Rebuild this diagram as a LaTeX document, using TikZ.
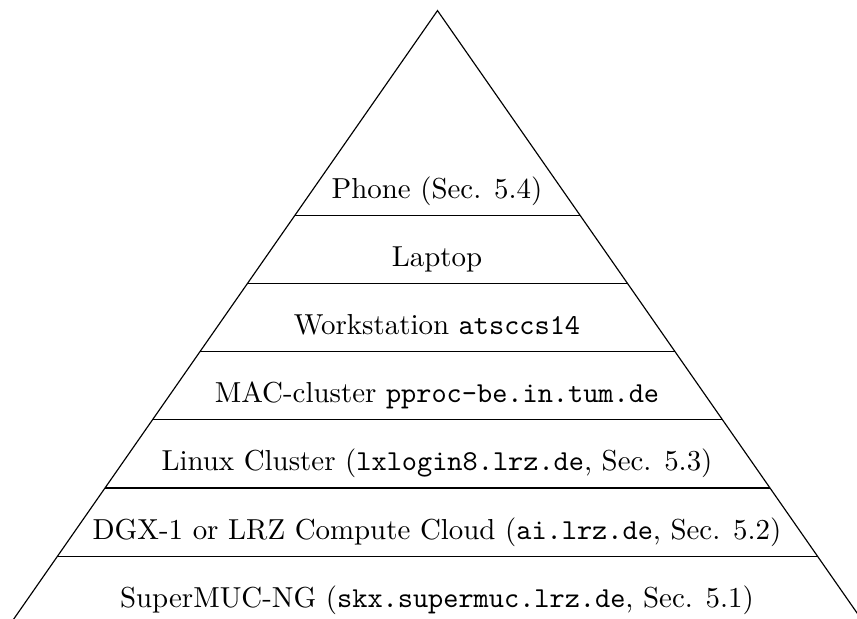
\documentclass[tikz,border=0pt]{standalone}

\begin{document}
\begin{tikzpicture}[x=0.346pt, y=-0.346pt]
\tikzset{layer/.style={anchor=base, inner sep=0pt}}
\useasboundingbox (0,0) rectangle (857,619);
\clip (0,0) rectangle (857,619);

% pyramid outline
\coordinate (apex) at (437.5,10.6);
\coordinate (bl) at (10,624.4);
\coordinate (br) at (865,624.4);
\draw (bl) -- (apex) -- (br);

% layer separators
\foreach \k in {3,...,8}{
  \coordinate (l\k) at ({437.5-47.5*\k},{10.6+68.2*\k});
  \coordinate (r\k) at ({437.5+47.5*\k},{10.6+68.2*\k});
  \draw (l\k) -- (r\k);
}

% labels
\node[layer] (phone) at (437,198.0) {Phone (Sec. 5.4)};
\node[layer] (laptop) at (437,266.2) {Laptop};
\node[layer] (workstation) at (437,334.4) {Workstation \texttt{atsccs14}};
\node[layer] (maccluster) at (437,402.6) {MAC-cluster \texttt{pproc-be.in.tum.de}};
\node[layer] (linux) at (437,470.8) {Linux Cluster (\texttt{lxlogin8.lrz.de}, Sec. 5.3)};
\node[layer] (dgx) at (437,539.0) {DGX-1 or LRZ Compute Cloud (\texttt{ai.lrz.de}, Sec. 5.2)};
\node[layer] (supermuc) at (437,607.2) {SuperMUC-NG (\texttt{skx.supermuc.lrz.de}, Sec. 5.1)};

\end{tikzpicture}
\end{document}
